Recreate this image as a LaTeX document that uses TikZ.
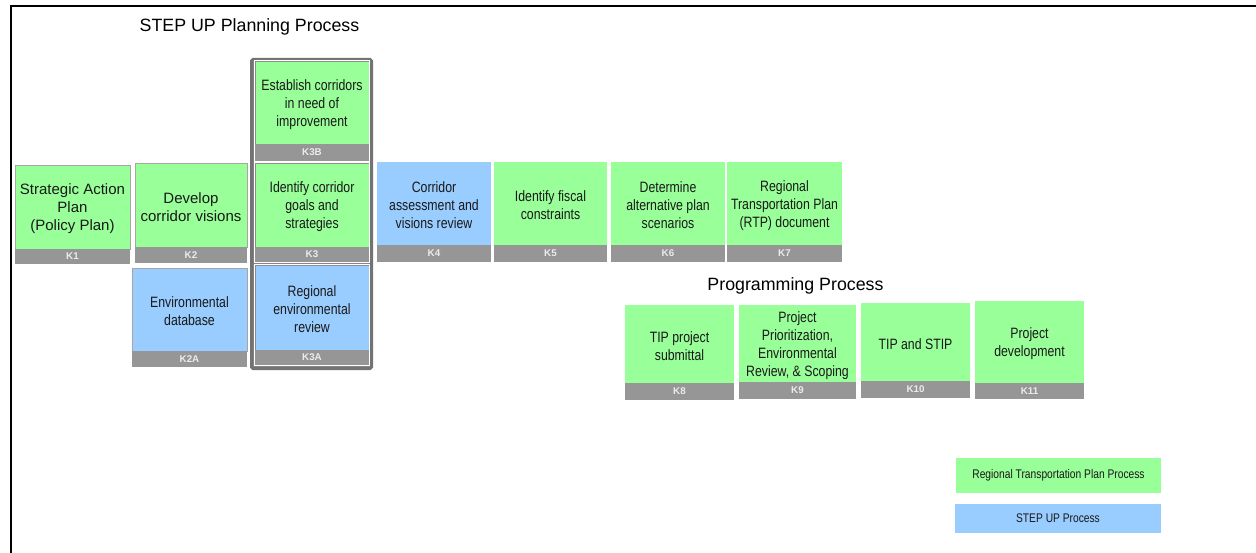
\documentclass[tikz,border=0pt]{standalone}
\usepackage{fontspec}
\setmainfont{Liberation Sans}
\newfontfamily\nf[FakeStretch=0.82]{Liberation Sans}
\definecolor{kgreen}{HTML}{99FF99}
\definecolor{kblue}{HTML}{99CCFF}
\definecolor{kbar}{HTML}{969696}
\definecolor{kgroup}{HTML}{858585}
\tikzset{
  body/.style={inner sep=0pt},
  btext/.style={inner sep=0pt, align=center, font=\nf\fontsize{15}{18}\selectfont, text=black!90},
  wide/.style={font=\fontsize{15}{18}\selectfont},
  bar/.style={fill=kbar, inner sep=0pt, font=\bfseries\fontsize{9.8}{10}\selectfont, text=white!92!black},
  grn/.style={fill=kgreen},
  blu/.style={fill=kblue},
  edged/.style={draw=black!35, line width=0.8pt},
  ingroup/.style={draw=black!45, line width=0.9pt},
  whiteframe/.style={draw=white, line width=0.9pt},
  title/.style={inner sep=0pt, font=\fontsize{17.8}{20}\selectfont},
  legend/.style={inner sep=0pt, font=\nf\fontsize{12.5}{14}\selectfont, text=black!90},
  grp/.style={draw=black!55, fill=kgroup, line width=3pt, rounded corners=1.5pt, inner sep=0pt},
  frame/.style={line width=2pt, draw=black}
}
% #1 name, #2 x1, #3 x2, #4 y1, #5 ybar, #6 y2, #7 body style, #8 text, #9 label
\newcommand\kcard[9]{%
  \pgfmathsetmacro\kw{#3-#2}%
  \pgfmathsetmacro\kh{#5-#4}%
  \pgfmathsetmacro\kb{#6-#5}%
  \node[body,#7,minimum width=\kw pt,minimum height=\kh pt] (#1) at ({(#2+#3)/2},{(#4+#5)/2}) {};
  \node[btext,#7,fill=none,draw=none] (#1t) at ([yshift=-1.8pt]#1.center) {#8};
  \node[bar,minimum width=\kw pt,minimum height=\kb pt] (#1b) at ({(#2+#3)/2},{(#5+#6)/2}) {#9};
}
\begin{document}
\begin{tikzpicture}[x=1pt,y=-1pt]
\useasboundingbox (0,0) rectangle (1256,553);
% frame (top and left lines)
\coordinate (ftr) at (1256,6);
\coordinate (ftl) at (11,6);
\coordinate (fbl) at (11,553);
\draw[frame] (ftr) -- (ftl) -- (fbl);

% titles
\node[title] (t1) at (249.5,27) {STEP UP Planning Process};
\node[title] (t2) at (795.5,286) {Programming Process};

% K3 group
\node[grp, minimum width=120pt, minimum height=309pt] (grp) at (311.5,214) {};

% planning cards
\kcard{K1}{15}{130}{165}{249}{264}{grn,edged,wide}{Strategic Action\\Plan\\(Policy Plan)}{K1}
\kcard{K2}{135}{247}{163}{247}{263}{grn,edged,wide}{Develop\\corridor visions}{K2}
\kcard{K2A}{132}{247}{268}{351}{367}{blu,edged}{Environmental\\database}{K2A}
\kcard{K3B}{255}{369}{61}{144}{161}{grn,ingroup}{Establish corridors\\in need of\\improvement}{K3B}
\kcard{K3}{255}{369}{163}{247}{262}{grn,ingroup}{Identify corridor\\goals and\\strategies}{K3}
\kcard{K3A}{255}{369}{265}{350}{365}{blu,ingroup}{Regional\\environmental\\review}{K3A}
\draw[whiteframe] (K3B.north west) rectangle (K3Bb.south east);
\draw[whiteframe] (K3.north west) rectangle (K3b.south east);
\draw[whiteframe] (K3A.north west) rectangle (K3Ab.south east);

\kcard{K4}{377}{491}{162}{245}{262}{blu}{Corridor\\assessment and\\visions review}{K4}
\kcard{K5}{494}{607}{162}{245}{262}{grn}{Identify fiscal\\constraints}{K5}
\kcard{K6}{611}{725}{162}{245}{262}{grn}{Determine\\alternative plan\\scenarios}{K6}
\kcard{K7}{727}{842}{162}{245}{262}{grn}{Regional\\Transportation Plan\\(RTP) document}{K7}

% programming cards
\kcard{K8}{625}{734}{305}{383}{400}{grn}{TIP project\\submittal}{K8}
\kcard{K9}{739}{856}{305}{382}{399}{grn}{Project\\Prioritization,\\Environmental\\Review, \& Scoping}{K9}
\kcard{K10}{861}{970}{303}{381}{398}{grn}{TIP and STIP}{K10}
\kcard{K11}{975}{1084}{301}{383}{399}{grn}{Project\\development}{K11}

% legend
\node[legend, fill=kgreen, minimum width=205pt, minimum height=35pt] (lg1) at (1058.5,475.5) {Regional Transportation Plan Process};
\node[legend, fill=kblue, minimum width=206pt, minimum height=29pt] (lg2) at (1058,518.5) {STEP UP Process};
\end{tikzpicture}
\end{document}
